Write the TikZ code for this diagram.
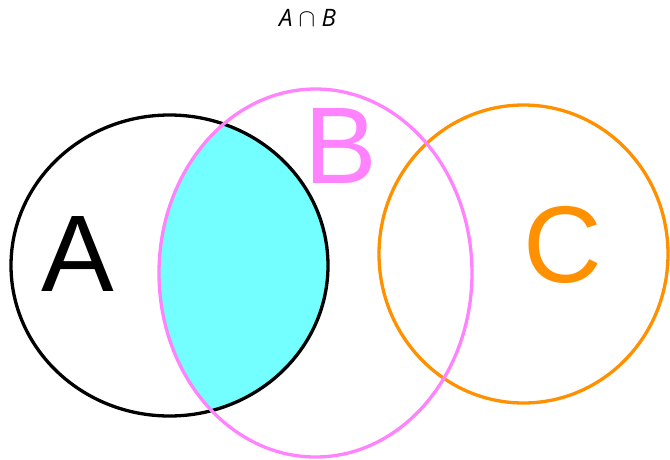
\documentclass[tikz,border=0pt]{standalone}
\usepackage{fontspec}
\setmainfont{Liberation Sans}
\newfontfamily\titlefont{Open Sans}
\definecolor{setpink}{RGB}{255,130,255}
\definecolor{setorange}{RGB}{255,145,0}
\definecolor{setcyan}{RGB}{115,255,255}
\tikzset{
 setlabel/.style={inner sep=0pt,font=\fontsize{109}{109}\selectfont},
}
\begin{document}
\begin{tikzpicture}[x=1pt,y=-1pt,line width=3.3pt]
\useasboundingbox (0,0) rectangle (670,459);
% shaded A cap B
\begin{scope}
 \clip (315.5,273) ellipse[x radius=156.5,y radius=184];
 \fill[setcyan] (169.5,265.5) ellipse[x radius=158.5,y radius=150.5];
\end{scope}
\draw (169.5,265.5) ellipse[x radius=158.5,y radius=150.5];
\draw[setorange] (523.5,254) ellipse[x radius=144.5,y radius=149];
\draw[setpink] (315.5,273) ellipse[x radius=156.5,y radius=184];
\node[setlabel] (labA) at (77.5,254) {A};
\node[setlabel,text=setpink] (labB) at (341,146) {B};
\node[setlabel,text=setorange] (labC) at (563,245) {C};
\node[inner sep=0pt,font=\fontsize{24}{24}\selectfont\titlefont] (title) at (307.5,18)
 {\itshape A {\fontsize{29}{29}\selectfont$\cap$} B};
\end{tikzpicture}
\end{document}
